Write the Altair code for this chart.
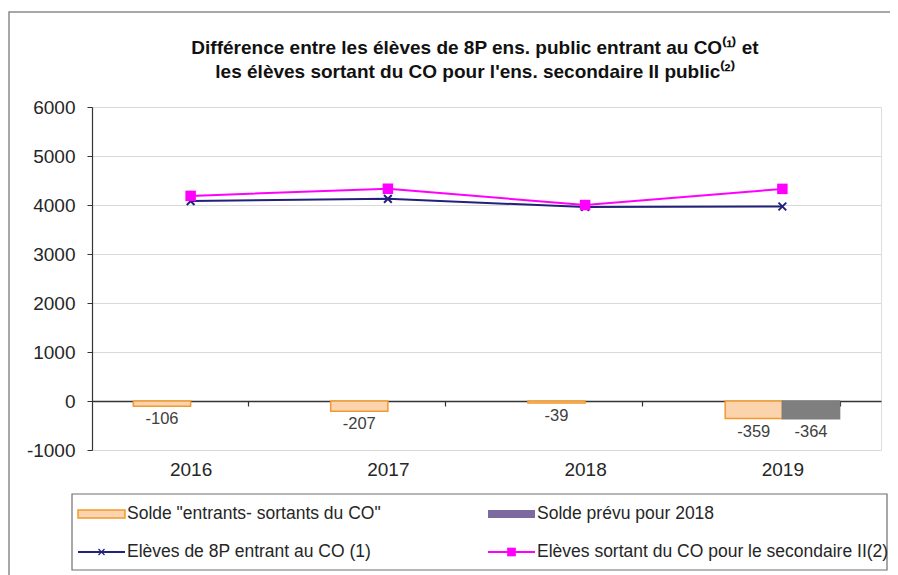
import altair as alt
import pandas as pd

# ---------------- data ----------------
years = ["2016", "2017", "2018", "2019"]
solde = [-106, -207, -39, -359]
solde_prevu_years = ["2019"]
solde_prevu = [-364]
entrants = [4080, 4125, 3960, 3970]
sortants = [4186, 4332, 3999, 4329]
y_ticks = [-1000, 0, 1000, 2000, 3000, 4000, 5000, 6000]

bar_series = ["Solde \"entrants- sortants du CO\"", "Solde prévu pour 2018"]
line_series = ["Elèves de 8P entrant au CO (1)", "Elèves sortant du CO pour le secondaire II(2)"]
title_lines = [
    "Différence entre les élèves de 8P ens. public entrant au CO⁽¹⁾ et",
    "les élèves sortant du CO pour l'ens. secondaire II public⁽²⁾",
]

bars_df = pd.DataFrame({
    "year": years + solde_prevu_years,
    "value": solde + solde_prevu,
    "series": [bar_series[0]] * len(years) + [bar_series[1]] * len(solde_prevu_years),
})
bars_df["label"] = bars_df["value"].astype(str)
ent_df = pd.DataFrame({"year": years, "value": entrants})
sor_df = pd.DataFrame({"year": years, "value": sortants})
dummy = pd.DataFrame({"a": [0]})

# ---------------- styles ----------------
FONT = "Liberation Sans"
W, H = 789, 343
ORANGE_FILL = "#fbd3ad"
ORANGE_STROKE = "#f29a2e"
GREY = "#7f7f7f"
PURPLE = "#7d6a9e"
NAVY = "#22227a"
MAGENTA = "#ff00ff"
TXT = "#262626"

xscale = alt.Scale(domain=years, paddingInner=0.42, paddingOuter=0.21)
yscale = alt.Scale(domain=[-1000, 6000], nice=False, zero=False)

x_axis = alt.Axis(
    title=None, labelAngle=0, labelFontSize=19, labelColor=TXT, labelFont=FONT,
    offset=-49, tickBand="extent", tickSize=5, tickColor="#333333", tickWidth=1.2,
    domainColor="#333333", domainWidth=1.5, labelPadding=54,
)
y_axis = alt.Axis(
    title=None, values=y_ticks, labelFontSize=19, labelColor=TXT, labelFont=FONT,
    tickSize=5, tickColor="#333333", domainColor="#333333", domainWidth=1.2,
    gridColor="#d9d9d9", labelPadding=12, labelExpr="'' + datum.value",
)

X = alt.X("year:N", scale=xscale, axis=x_axis)
Y = alt.Y("value:Q", scale=yscale, axis=y_axis)
XO = alt.XOffset("series:N", scale=alt.Scale(domain=bar_series))

bars = alt.Chart(bars_df).mark_bar(strokeWidth=1.5).encode(
    x=X, xOffset=XO, y=Y,
    fill=alt.Fill("series:N", scale=alt.Scale(domain=bar_series, range=[ORANGE_FILL, GREY]), legend=None),
    stroke=alt.Stroke("series:N", scale=alt.Scale(domain=bar_series, range=[ORANGE_STROKE, GREY]), legend=None),
)
bar_labels = alt.Chart(bars_df).mark_text(
    dy=13, baseline="middle", fontSize=16.5, font=FONT, color="#404040"
).encode(x=X, xOffset=XO, y=Y, text="label:N")

ent_line = alt.Chart(ent_df).mark_line(color=NAVY, strokeWidth=2).encode(x=X, y=Y)
ent_pts = alt.Chart(ent_df).mark_point(
    shape="M-1,-1L1,1M-1,1L1,-1", size=60, color=NAVY, strokeWidth=2, filled=False, opacity=1
).encode(x=X, y=Y)
sor_line = alt.Chart(sor_df).mark_line(color=MAGENTA, strokeWidth=2).encode(x=X, y=Y)
sor_pts = alt.Chart(sor_df).mark_square(size=110, color=MAGENTA, opacity=1).encode(x=X, y=Y)

# ---------------- decorations: outer frame, title, legend ----------------
outer = alt.Chart(dummy).mark_rect(fill=None, stroke="#8a8a8a", strokeWidth=1.5).encode(
    x=alt.value(-83), x2=alt.value(830), y=alt.value(-95), y2=alt.value(520)
)
title_layers = [
    alt.Chart(dummy).mark_text(
        align="center", baseline="middle", fontSize=19, font=FONT, fontWeight="bold", color="#111111"
    ).encode(x=alt.value(383), y=alt.value(ty), text=alt.value(t))
    for t, ty in zip(title_lines, [-59, -35])
]
leg_box = alt.Chart(dummy).mark_rect(fill="white", stroke="#6f6f6f", strokeWidth=1.2).encode(
    x=alt.value(-20), x2=alt.value(795), y=alt.value(387), y2=alt.value(463)
)

R1, R2 = 407, 445
C1, C2 = -14, 396
SW = 47
leg_layers = [leg_box]
leg_layers.append(alt.Chart(dummy).mark_rect(fill=ORANGE_FILL, stroke=ORANGE_STROKE, strokeWidth=1.5).encode(
    x=alt.value(C1), x2=alt.value(C1 + SW), y=alt.value(R1 - 4), y2=alt.value(R1 + 4)))
leg_layers.append(alt.Chart(dummy).mark_rect(fill=PURPLE).encode(
    x=alt.value(C2), x2=alt.value(C2 + SW), y=alt.value(R1 - 4), y2=alt.value(R1 + 4)))
leg_layers.append(alt.Chart(dummy).mark_rule(color=NAVY, strokeWidth=2).encode(
    x=alt.value(C1), x2=alt.value(C1 + SW), y=alt.value(R2)))
leg_layers.append(alt.Chart(dummy).mark_point(
    shape="M-1,-1L1,1M-1,1L1,-1", size=36, color=NAVY, strokeWidth=1.2, filled=False, opacity=1
).encode(x=alt.value(C1 + SW / 2), y=alt.value(R2)))
leg_layers.append(alt.Chart(dummy).mark_rule(color=MAGENTA, strokeWidth=2).encode(
    x=alt.value(C2), x2=alt.value(C2 + SW), y=alt.value(R2)))
leg_layers.append(alt.Chart(dummy).mark_square(size=75, color=MAGENTA, opacity=1).encode(
    x=alt.value(C2 + SW / 2), y=alt.value(R2)))
for lab, cx, cy in [(bar_series[0], C1, R1), (bar_series[1], C2, R1),
                    (line_series[0], C1, R2), (line_series[1], C2, R2)]:
    leg_layers.append(alt.Chart(dummy).mark_text(
        align="left", baseline="middle", fontSize=17.5, font=FONT, color=TXT
    ).encode(x=alt.value(cx + SW + 2), y=alt.value(cy), text=alt.value(lab)))

chart = alt.layer(
    outer, *title_layers, bars, bar_labels, ent_line, ent_pts, sor_line, sor_pts, *leg_layers
).properties(
    width=W, height=H,
    autosize=alt.AutoSizeParams(type="none"),
    padding={"left": 84, "top": 99, "right": 9, "bottom": 125},
).configure_view(
    stroke="#7f7f7f", strokeWidth=1.2
).configure(background="white")

chart.save("out.html", embed_options={"renderer": "svg", "actions": False})
